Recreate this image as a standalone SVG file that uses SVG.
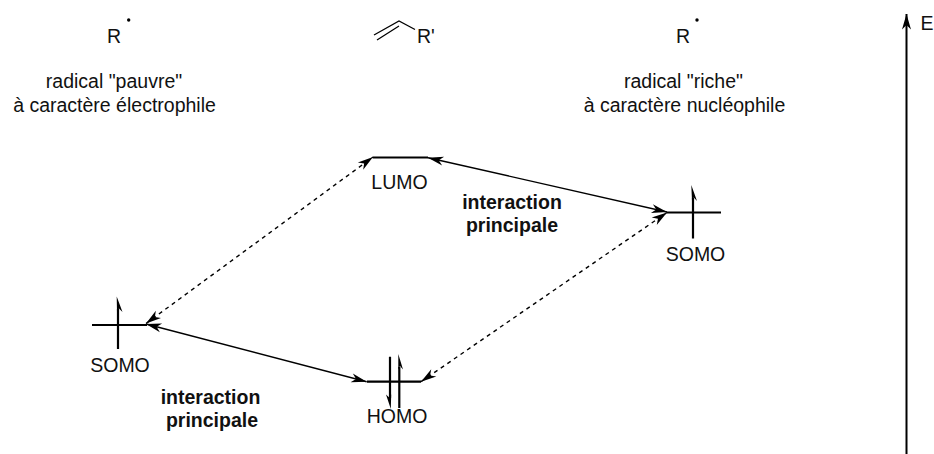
<svg xmlns="http://www.w3.org/2000/svg" width="934" height="454" viewBox="0 0 934 454">
<style>
text{font-family:"Liberation Sans",Arial,sans-serif;font-size:19.5px;fill:#111;text-anchor:middle}
.b{font-weight:bold}
.s{text-anchor:start}
.l{fill:none;stroke:#000;stroke-width:2.2}
.c{fill:none;stroke:#000;stroke-width:1.4;marker-start:url(#ah);marker-end:url(#ah)}
.d{stroke-dasharray:4 4}
.h{fill:#000}
.t{fill:none;stroke:#000;stroke-width:1.3}
</style>
<defs><marker id="ah" markerUnits="userSpaceOnUse" markerWidth="17" markerHeight="10" viewBox="-16 -5 17 10" refX="0" refY="0" orient="auto-start-reverse"><path d="M0 0L-15.500 -4.500L-11 0L-15.500 4.500Z"/></marker></defs>
<rect width="934" height="454" fill="#fff"/>
<g id="radical-left"><text class="s" x="107" y="43">R</text><circle cx="128.700" cy="20" r="1.700" class="h"/><text x="114" y="88">radical "pauvre"</text><text x="114.500" y="112">à caractère électrophile</text></g>
<g id="alkene"><path class="t" d="M374 35L399 21L415 29.500M377 40L399 26"/><text class="s" x="417" y="43">R'</text></g>
<g id="radical-right"><text class="s" x="676" y="43">R</text><circle cx="697" cy="20" r="1.700" class="h"/><text x="683.500" y="88">radical "riche"</text><text x="684.500" y="112">à caractère nucléophile</text></g>
<g id="lumo"><path class="l" d="M373 157.500H428"/><text x="399.500" y="189">LUMO</text></g>
<g id="somo-right"><path class="l" d="M667 212.500H721M693 198V238.500"/><path class="h" d="M691.300 185L697 201L693.800 197.500L692 201Z"/><text x="695.500" y="261">SOMO</text></g>
<g id="somo-left"><path class="l" d="M92 325H147M118 309V349"/><path class="h" d="M116.700 296.500L122.500 312L119 308.500L117 312Z"/><text x="120" y="372">SOMO</text></g>
<g id="homo"><path class="l" d="M367 381.700H421M390 356.700V398M399.300 367V408"/><path class="h" d="M398.300 354L403 369.500L400 366L398.300 369.500Z"/><path class="h" d="M390.800 409L386 394.500L389.200 397.500L391.200 394.500Z"/><text x="397" y="423">HOMO</text></g>
<g id="label-top"><text class="b" x="512" y="209">interaction</text><text class="b" x="512" y="232">principale</text></g>
<g id="label-bottom"><text class="b" x="210.500" y="404">interaction</text><text class="b" x="212" y="427">principale</text></g>
<g id="energy"><text class="s" x="920.500" y="30">E</text></g>
<g id="connectors">
<path class="c" d="M428 157.700L667 212"/>
<path class="c" d="M146 324L366.700 381.800"/>
<path class="c d" d="M146 323.500L373 157"/>
<path class="c d" d="M421 381.700L667 212.500"/>
<path style="fill:none;stroke:#000;stroke-width:2;marker-end:url(#ah)" d="M906.500 454V14"/>
</g>
</svg>
